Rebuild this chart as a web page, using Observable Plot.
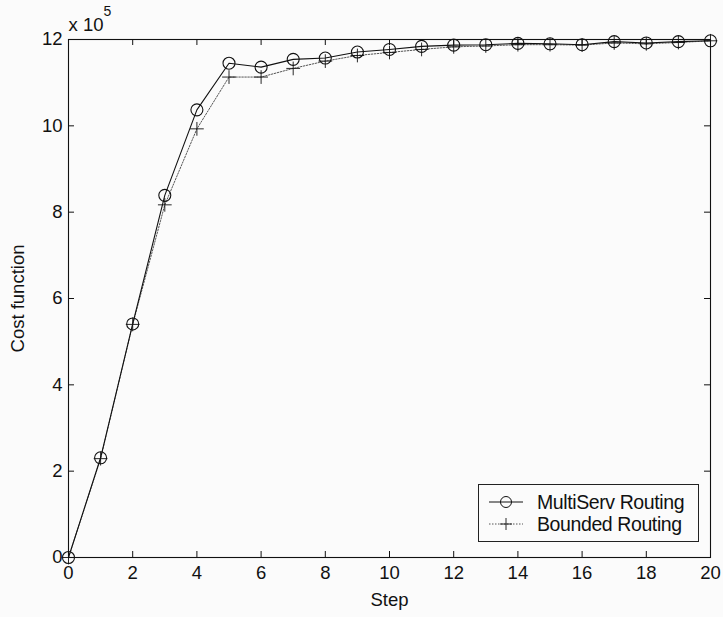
<!DOCTYPE html>
<html>
<head>
<meta charset="utf-8">
<script src="https://cdn.jsdelivr.net/npm/d3@7"></script>
<script src="https://cdn.jsdelivr.net/npm/@observablehq/plot@0.6"></script>
<style>
  html, body { margin: 0; padding: 0; background: #fbfbfb; }
  #wrap { position: relative; width: 723px; height: 617px; font-family: "Liberation Sans", Arial, sans-serif; color: #111; }
  #legend { position: absolute; left: 478px; top: 484px; width: 219px; height: 56px; border: 1px solid #222; box-sizing: content-box; background: #fbfbfb; }
  #legend .row { position: absolute; left: 0; height: 22px; display: flex; align-items: center; font-size: 19.5px; letter-spacing: -0.4px; }
  #legend svg { display: block; margin-left: 10px; margin-right: 14px; }
</style>
</head>
<body>
<div id="wrap">
  <div id="chart"></div>
  <div id="legend"></div>
</div>
<script>
// Data (cost function values in units of 10^5)
const steps = [0,1,2,3,4,5,6,7,8,9,10,11,12,13,14,15,16,17,18,19,20];
const multiServ = [0, 2.31, 5.41, 8.39, 10.37, 11.45, 11.36, 11.54, 11.57, 11.71, 11.77, 11.84, 11.87, 11.88, 11.91, 11.90, 11.88, 11.95, 11.92, 11.95, 11.97];
const bounded = [0, 2.29, 5.40, 8.17, 9.93, 11.13, 11.13, 11.33, 11.50, 11.63, 11.70, 11.77, 11.83, 11.85, 11.88, 11.88, 11.87, 11.92, 11.90, 11.93, 11.97];
const xTicks = [0,2,4,6,8,10,12,14,16,18,20];
const yTicks = [0,2,4,6,8,10,12];
const seriesNames = ["MultiServ Routing", "Bounded Routing"];
const xLabel = "Step";
const yLabel = "Cost function";

const multiData = steps.map((s, i) => ({step: s, value: multiServ[i]}));
const boundedData = steps.map((s, i) => ({step: s, value: bounded[i]}));

const W = 723, H = 617;
const mL = 68, mR = 13, mT = 39, mB = 60;
const innerH = H - mT - mB, innerW = W - mL - mR;
const tickLen = 6;
const ink = "#111";
const fs = 18.5;

const chart = Plot.plot({
  width: W,
  height: H,
  marginLeft: mL,
  marginRight: mR,
  marginTop: mT,
  marginBottom: mB,
  style: {fontFamily: "'Liberation Sans', Arial, sans-serif", fontSize: fs + "px", background: "transparent", color: ink},
  x: {domain: [0, 20]},
  y: {domain: [0, 12]},
  marks: [
    Plot.frame({stroke: ink, strokeWidth: 1.1}),
    // inward ticks, bottom and top
    Plot.tickX(xTicks, {x: d => d, insetTop: innerH - tickLen, stroke: ink}),
    Plot.tickX(xTicks, {x: d => d, insetBottom: innerH - tickLen, stroke: ink}),
    // inward ticks, left and right
    Plot.tickY(yTicks, {y: d => d, insetRight: innerW - tickLen, stroke: ink}),
    Plot.tickY(yTicks, {y: d => d, insetLeft: innerW - tickLen, stroke: ink}),
    Plot.axisX({ticks: xTicks, tickSize: 0, tickPadding: 8, fontSize: fs, label: xLabel, labelAnchor: "center", labelArrow: "none", labelOffset: 48}),
    Plot.axisY({ticks: yTicks, tickSize: 0, tickPadding: 6, fontSize: fs, label: yLabel, labelAnchor: "center", labelArrow: "none", labelOffset: 58}),
    // multiplier annotation
    Plot.text(["x 10"], {frameAnchor: "top-left", text: d => d, dy: -22, dx: 0, textAnchor: "start", fontSize: fs, fill: ink}),
    Plot.text(["5"], {frameAnchor: "top-left", text: d => d, dy: -33, dx: 35, textAnchor: "start", fontSize: 14, fill: ink}),
    // Bounded routing: dotted line with plus markers
    Plot.line(boundedData, {x: "step", y: "value", stroke: "#555", strokeWidth: 1, strokeDasharray: "1.5,1.5"}),
    Plot.dot(boundedData, {x: "step", y: "value", symbol: "plus", r: 4.5, stroke: ink, strokeWidth: 0.9}),
    // MultiServ routing: solid line with circle markers
    Plot.line(multiData, {x: "step", y: "value", stroke: ink, strokeWidth: 1.1}),
    Plot.dot(multiData, {x: "step", y: "value", symbol: "circle", r: 6, stroke: ink, strokeWidth: 1.1, fill: "none"})
  ]
});
document.getElementById("chart").appendChild(chart);

// Legend
const legend = document.getElementById("legend");
const rows = [
  {name: seriesNames[0], top: 6, dash: null, marker: "circle", color: ink},
  {name: seriesNames[1], top: 28, dash: "1.5,1.5", marker: "plus", color: "#555"}
];
for (const r of rows) {
  const row = document.createElement("div");
  row.className = "row";
  row.style.top = r.top + "px";
  const ns = "http://www.w3.org/2000/svg";
  const s = document.createElementNS(ns, "svg");
  s.setAttribute("width", 34); s.setAttribute("height", 20);
  const ln = document.createElementNS(ns, "line");
  ln.setAttribute("x1", 0); ln.setAttribute("x2", 34); ln.setAttribute("y1", 10); ln.setAttribute("y2", 10);
  ln.setAttribute("stroke", r.color); ln.setAttribute("stroke-width", 1);
  if (r.dash) ln.setAttribute("stroke-dasharray", r.dash);
  s.appendChild(ln);
  if (r.marker === "circle") {
    const c = document.createElementNS(ns, "circle");
    c.setAttribute("cx", 17); c.setAttribute("cy", 10); c.setAttribute("r", 5.5);
    c.setAttribute("fill", "none"); c.setAttribute("stroke", ink);
    s.appendChild(c);
  } else {
    const p = document.createElementNS(ns, "path");
    p.setAttribute("d", "M11,10H23M17,4V16");
    p.setAttribute("stroke", ink); p.setAttribute("stroke-width", 0.9);
    s.appendChild(p);
  }
  row.appendChild(s);
  const t = document.createElement("span");
  t.textContent = r.name;
  row.appendChild(t);
  legend.appendChild(row);
}
</script>
</body>
</html>
